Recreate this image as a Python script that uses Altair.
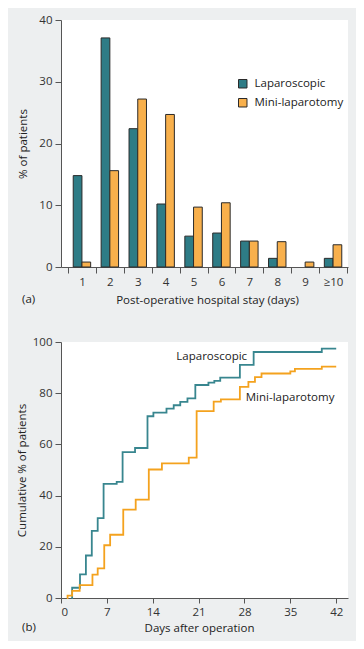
import altair as alt
import pandas as pd

# ---------------- data ----------------
stay_days = ["1", "2", "3", "4", "5", "6", "7", "8", "9", "≥10"]
lap_pct = [14.8, 37.1, 22.4, 10.2, 5.0, 5.5, 4.2, 1.4, 0.0, 1.4]
mini_pct = [0.8, 15.6, 27.2, 24.7, 9.7, 10.4, 4.2, 4.1, 0.8, 3.6]
series = ["Laparoscopic", "Mini-laparotomy"]

lap_days = [1.6, 1.7, 2.9, 3.8, 4.7, 5.6, 6.5, 8.5, 9.4, 11.3, 13.2, 14.1, 16.1, 17.2,
            18.2, 19.3, 20.5, 22.5, 23.4, 24.3, 27.3, 29.4, 39.8, 42.0]
lap_cum = [0.0, 4.0, 9.2, 16.6, 26.2, 31.2, 44.6, 45.4, 57.0, 58.6, 71.0, 72.4, 74.0, 75.3,
           76.6, 78.0, 83.2, 84.1, 84.8, 86.1, 91.1, 96.1, 97.4, 97.4]
mini_days = [0.9, 1.0, 1.7, 2.85, 4.8, 5.6, 6.6, 7.5, 9.5, 11.4, 13.4, 15.4, 19.5, 20.7,
             23.3, 24.4, 27.3, 28.6, 29.6, 30.6, 35.0, 35.7, 39.8, 42.0]
mini_cum = [0.0, 0.9, 2.8, 5.0, 9.1, 11.6, 20.6, 24.7, 34.5, 38.4, 50.2, 52.6, 54.8, 73.0,
            76.7, 77.6, 82.5, 84.4, 86.3, 87.7, 88.5, 89.5, 90.4, 90.4]

label_text = ["Laparoscopic", "Mini-laparotomy"]
label_day = [17.6, 28.2]
label_pct = [94.1, 78.3]

day_ticks = [0, 7, 14, 21, 28, 35, 42]
pct_ticks_a = [0, 10, 20, 30, 40]
pct_ticks_b = [0, 20, 40, 60, 80, 100]

# ---------------- style ----------------
FONT = "Open Sans"
FS = 11.5
BG = "#edeff0"
TEAL_BAR, ORANGE_BAR = "#2e7c86", "#f8b04c"
TEAL_LINE, ORANGE_LINE = "#38868f", "#f4a21e"
AXIS_COL = "#555555"

bars_df = pd.DataFrame({
    "stay": stay_days * 2,
    "series": [series[0]] * len(stay_days) + [series[1]] * len(stay_days),
    "pct": lap_pct + mini_pct,
})
cum_df = pd.DataFrame({
    "day": lap_days + mini_days,
    "pct": lap_cum + mini_cum,
    "series": [series[0]] * len(lap_days) + [series[1]] * len(mini_days),
})
lab_df = pd.DataFrame({"label": label_text, "day": label_day, "pct": label_pct})
one = pd.DataFrame({"t": ["x"]})

# ---------------- panel a ----------------
bars = alt.Chart(bars_df).transform_filter("datum.pct > 0").mark_bar(
    stroke="#2a2a2a", strokeWidth=1
).encode(
    x=alt.X("stay:N", sort=stay_days,
            scale=alt.Scale(paddingInner=0, paddingOuter=0.1434, align=0.875),
            axis=alt.Axis(title="Post-operative hospital stay (days)", labelAngle=0,
                          tickBand="extent", tickSize=6, labelPadding=3,
                          titleX=146, titleY=33, titleBaseline="middle", titleAlign="center")),
    xOffset=alt.XOffset("series:N", sort=series,
                        scale=alt.Scale(paddingInner=0, paddingOuter=0.6)),
    y=alt.Y("pct:Q", scale=alt.Scale(domain=[0, 40], nice=False),
            axis=alt.Axis(values=pct_ticks_a, title="% of patients", tickSize=6,
                          labelPadding=3, titleX=-38, titleY=123.5, titleAngle=-90,
                          titleBaseline="middle", titleAlign="center")),
    color=alt.Color("series:N", sort=series,
                    scale=alt.Scale(domain=series, range=[TEAL_BAR, ORANGE_BAR]),
                    legend=alt.Legend(orient="none", legendX=176, legendY=58, title=None,
                                      symbolType="square", symbolSize=72,
                                      symbolStrokeColor="#2a2a2a", symbolStrokeWidth=1,
                                      labelFont=FONT, labelFontSize=FS, labelColor="#222222",
                                      labelOffset=6, rowPadding=6, padding=0)),
)

tag_a = alt.Chart(pd.DataFrame({"t": ["(a)"]})).mark_text(
    align="left", baseline="middle", font=FONT, fontSize=FS, color="#222222"
).encode(text="t:N", x=alt.value(-39), y=alt.value(280))

corner_a = alt.Chart(one).mark_rect(fill=BG, strokeWidth=0).encode(
    x=alt.value(-53), x2=alt.value(-52), y=alt.value(-12), y2=alt.value(-11))

panel_a = alt.layer(bars, tag_a, corner_a).properties(width=287, height=247)

# ---------------- panel b ----------------
lines = alt.Chart(cum_df).mark_line(interpolate="step-after", strokeWidth=1.8).encode(
    x=alt.X("day:Q", scale=alt.Scale(domain=[0, 43.8], nice=False),
            axis=alt.Axis(values=day_ticks, title="Days after operation", tickSize=5,
                          labelPadding=3, titleX=138, titleY=30, titleBaseline="middle",
                          titleAlign="center")),
    y=alt.Y("pct:Q", scale=alt.Scale(domain=[0, 100], nice=False),
            axis=alt.Axis(values=pct_ticks_b, title="Cumulative % of patients", tickSize=6,
                          labelPadding=3, titleX=-39, titleY=128, titleAngle=-90,
                          titleBaseline="middle", titleAlign="center")),
    color=alt.Color("series:N", sort=series,
                    scale=alt.Scale(domain=series, range=[TEAL_LINE, ORANGE_LINE]),
                    legend=None),
)

labels = alt.Chart(lab_df).mark_text(
    align="left", baseline="middle", font=FONT, fontSize=FS, color="#222222"
).encode(x="day:Q", y="pct:Q", text="label:N")

tag_b = alt.Chart(pd.DataFrame({"t": ["(b)"]})).mark_text(
    align="left", baseline="middle", font=FONT, fontSize=FS, color="#222222"
).encode(text="t:N", x=alt.value(-39), y=alt.value(286))

corner_b = alt.Chart(one).mark_rect(fill=BG, strokeWidth=0).encode(
    x=alt.value(294), x2=alt.value(295), y=alt.value(298), y2=alt.value(299))

panel_b = alt.layer(lines, labels, tag_b, corner_b).properties(width=287, height=256)

chart = alt.vconcat(panel_a, panel_b, spacing=75, bounds="flush").resolve_scale(
    color="independent"
).properties(background=BG, padding=0).configure_view(
    fill="white", strokeWidth=0
).configure_axis(
    domainColor=AXIS_COL, tickColor=AXIS_COL, labelColor="#333333", titleColor="#222222",
    labelFont=FONT, titleFont=FONT, labelFontSize=FS, titleFontSize=FS,
    titleFontWeight="normal", grid=False, domainWidth=1, tickWidth=1
)

chart.save("out.html", embed_options={"renderer": "svg", "actions": False})
